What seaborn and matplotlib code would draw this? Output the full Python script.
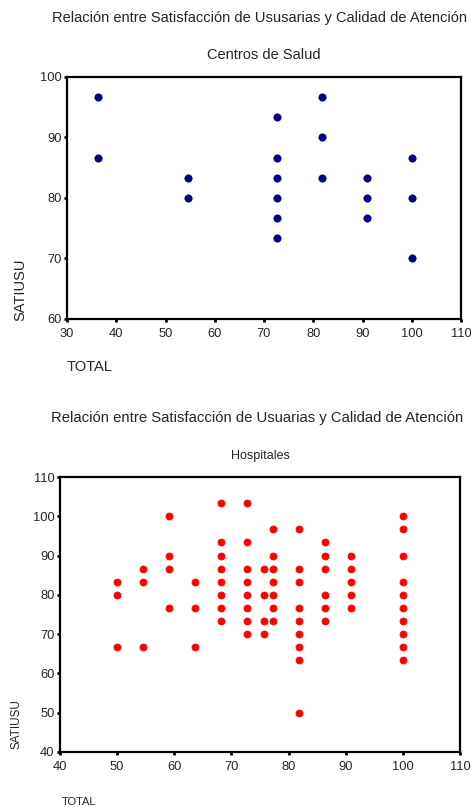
import numpy as np
import pandas as pd
import matplotlib
matplotlib.use("Agg")
import matplotlib.pyplot as plt
import seaborn as sns

#------------DATA----------

# Centros de Salud
centros_total = [36.36, 36.36,
                 54.55, 54.55,
                 72.73, 72.73, 72.73, 72.73, 72.73, 72.73,
                 81.82, 81.82, 81.82,
                 90.91, 90.91, 90.91,
                 100, 100, 100]
centros_satiusu = [96.67, 86.67,
                   83.33, 80.0,
                   93.33, 86.67, 83.33, 80.0, 76.67, 73.33,
                   96.67, 90.0, 83.33,
                   83.33, 80.0, 76.67,
                   86.67, 80.0, 70.0]

# Hospitales
hosp_total = ([50.0] * 3 + [54.55] * 3 + [59.09] * 4 + [63.64] * 3 + [68.18] * 8
              + [72.73] * 8 + [75.76] * 4 + [77.27] * 7 + [81.82] * 9
              + [86.36] * 6 + [90.91] * 5 + [100.0] * 10)
hosp_satiusu = [83.33, 80.0, 66.67,
                86.67, 83.33, 66.67,
                100.0, 90.0, 86.67, 76.67,
                83.33, 76.67, 66.67,
                103.33, 93.33, 90.0, 86.67, 83.33, 80.0, 76.67, 73.33,
                103.33, 93.33, 86.67, 83.33, 80.0, 76.67, 73.33, 70.0,
                86.67, 80.0, 73.33, 70.0,
                96.67, 90.0, 86.67, 83.33, 80.0, 76.67, 73.33,
                96.67, 86.67, 83.33, 76.67, 73.33, 70.0, 66.67, 63.33, 50.0,
                93.33, 90.0, 86.67, 80.0, 76.67, 73.33,
                90.0, 86.67, 83.33, 80.0, 76.67,
                100.0, 96.67, 90.0, 83.33, 80.0, 76.67, 73.33, 70.0, 66.67, 63.33]

centros_xticks = [30, 40, 50, 60, 70, 80, 90, 100, 110]
centros_yticks = [60, 70, 80, 90, 100]
hosp_xticks = [40, 50, 60, 70, 80, 90, 100, 110]
hosp_yticks = [40, 50, 60, 70, 80, 90, 100, 110]

df_c = pd.DataFrame({"TOTAL": centros_total, "SATIUSU": centros_satiusu})
df_h = pd.DataFrame({"TOTAL": hosp_total, "SATIUSU": hosp_satiusu})

#------------PLOT----------

sns.set_style("white")
plt.rcParams["font.family"] = ["Liberation Sans", "DejaVu Sans"]

fig = plt.figure(figsize=(4.71, 8.07), dpi=100)
ax1 = fig.add_axes([67 / 471, 1 - 319 / 807, 394 / 471, 242 / 807])
ax2 = fig.add_axes([60 / 471, 1 - 752 / 807, 400 / 471, 275 / 807])

sns.scatterplot(data=df_c, x="TOTAL", y="SATIUSU", ax=ax1,
                color="#000080", s=28, edgecolor="#000080", linewidth=0.5)
sns.scatterplot(data=df_h, x="TOTAL", y="SATIUSU", ax=ax2,
                color="#ff0000", s=26, edgecolor="#ff0000", linewidth=0.5)

ax1.set_xlim(30, 110)
ax1.set_ylim(60, 100)
ax1.set_xticks(centros_xticks)
ax1.set_yticks(centros_yticks)
ax2.set_xlim(40, 110)
ax2.set_ylim(40, 110)
ax2.set_xticks(hosp_xticks)
ax2.set_yticks(hosp_yticks)

for ax in (ax1, ax2):
    ax.set_xlabel("")
    ax.set_ylabel("")
    for sp in ax.spines.values():
        sp.set_color("black")
        sp.set_linewidth(1.6)
    ax.tick_params(axis="both", direction="out", length=2.5, width=2,
                   color="black", labelsize=9.3, pad=1.5, bottom=True, left=True)
    ax.tick_params(axis="x", pad=4)

# texts - Centros de Salud
fig.text(259 / 471, 1 - 18 / 807, "Relación entre Satisfacción de Ususarias y Calidad de Atención",
         ha="center", va="center", fontsize=10.5)
fig.text(264 / 471, 1 - 55 / 807, "Centros de Salud", ha="center", va="center", fontsize=10.5)
fig.text(20 / 471, 1 - 290 / 807, "SATIUSU", ha="center", va="center", rotation=90, fontsize=10.5)
fig.text(67 / 471, 1 - 367 / 807, "TOTAL", ha="left", va="center", fontsize=10.5)

# texts - Hospitales
fig.text(257 / 471, 1 - 418 / 807, "Relación entre Satisfacción de Usuarias y Calidad de Atención",
         ha="center", va="center", fontsize=10.7)
fig.text(260 / 471, 1 - 456 / 807, "Hospitales", ha="center", va="center", fontsize=9)
fig.text(16 / 471, 1 - 724 / 807, "SATIUSU", ha="center", va="center", rotation=90, fontsize=8.5)
fig.text(62 / 471, 1 - 802 / 807, "TOTAL", ha="left", va="center", fontsize=8)

plt.savefig("out.png", dpi=100)
plt.close()
